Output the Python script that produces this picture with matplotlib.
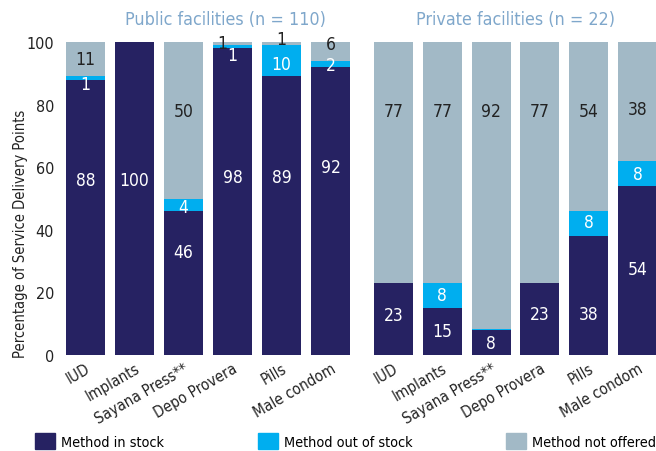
import matplotlib
matplotlib.use("agg")
import matplotlib.pyplot as plt
from matplotlib import rcParams
from matplotlib.patches import Patch
import matplotlib.transforms as mtrans
import numpy as np

rcParams['font.family'] = ['DejaVu Sans']
rcParams['font.stretch'] = 'condensed'

methods = ['IUD', 'Implants', 'Sayana Press**', 'Depo Provera', 'Pills', 'Male condom']

pub_in_stock = [88, 100, 46, 98, 89, 92]
pub_out_stock = [1, 0, 4, 1, 10, 2]
pub_not_offered = [11, 0, 50, 1, 1, 6]

priv_in_stock = [23, 15, 8, 23, 38, 54]
priv_out_stock = [0, 8, 0.3, 0, 8, 8]
priv_not_offered = [77, 77, 92, 77, 54, 38]

col_in = '#262262'
col_out = '#00AEEF'
col_not = '#A2B9C6'
col_title = '#7FA7CB'

# where the value labels sit (percent units)
pub_lab_in = [56, 56, 33, 57, 57, 60]
pub_lab_out = [86.5, None, 47.3, 96, 93, 92.6]
pub_lab_not = [94.6, None, 78, 99.6, 101, 99.4]
priv_lab_in = [12.8, 7.7, 3.8, 13.2, 13.2, 27.5]
priv_lab_out = [None, 19.2, None, None, 42.5, 57.8]
priv_lab_not = [78, 78, 78, 78, 78, 78.6]

W, H = 656, 452
fig = plt.figure(figsize=(W / 100, H / 100), dpi=100)

ax1 = fig.add_axes([61 / W, 1 - 356 / H, 294 / W, 313 / H])
ax2 = fig.add_axes([369 / W, 1 - 356 / H, 293 / W, 313 / H])


def draw_panel(ax, title, s_in, s_out, s_not, l_in, l_out, l_not, title_dx=0):
    x = np.arange(len(methods))
    b_out = np.array(s_in)
    b_not = b_out + np.array(s_out)
    ax.bar(x, s_in, width=0.8, color=col_in)
    ax.bar(x, s_out, width=0.8, bottom=b_out, color=col_out)
    ax.bar(x, s_not, width=0.8, bottom=b_not, color=col_not)
    for i in range(len(methods)):
        if l_in[i] is not None:
            ax.text(x[i], l_in[i], str(s_in[i]), color='white', fontsize=12.5,
                    ha='center', va='center')
        if l_out[i] is not None:
            ax.text(x[i], l_out[i], str(int(s_out[i])), color='white', fontsize=12.5,
                    ha='center', va='center')
        if l_not[i] is not None:
            dx = -0.2 if (s_not[i] == 1 and s_out[i] == 1) else 0
            ax.text(x[i] + dx, l_not[i], str(s_not[i]), color='#222222', fontsize=12.5,
                    ha='center', va='center')
    ax.set_xlim(-0.5, len(methods) - 0.5)
    ax.set_ylim(0, 100)
    ax.set_xticks(x)
    ax.set_xticklabels(methods, rotation=30, ha='right', rotation_mode='anchor',
                       fontsize=11, color='#222222')
    shift = mtrans.ScaledTranslation(5 / 100, 0, fig.dpi_scale_trans)
    for lab in ax.get_xticklabels():
        lab.set_transform(lab.get_transform() + shift)
    for s in ax.spines.values():
        s.set_visible(False)
    ax.tick_params(length=0)
    ax.tick_params(axis='x', pad=4)
    ax.set_title(title, color=col_title, fontsize=12.8, pad=13, x=0.5 + title_dx)


draw_panel(ax1, 'Public facilities (n = 110)', pub_in_stock, pub_out_stock,
           pub_not_offered, pub_lab_in, pub_lab_out, pub_lab_not, title_dx=0.06)
draw_panel(ax2, 'Private facilities (n = 22)', priv_in_stock, priv_out_stock,
           priv_not_offered, priv_lab_in, priv_lab_out, priv_lab_not)

ax1.set_yticks([0, 20, 40, 60, 80, 100])
ax1.tick_params(axis='y', labelsize=11.5, labelcolor='#222222', pad=5)
ax1.set_ylabel('Percentage of Service Delivery Points', fontsize=10.5, color='#222222')
ax1.yaxis.set_label_coords(-0.112, 0.39)
ax2.set_yticks([])

handles = [Patch(color=col_in, label='Method in stock'),
           Patch(color=col_out, label='Method out of stock'),
           Patch(color=col_not, label='Method not offered')]
fig.legend(handles=handles, loc='lower left', bbox_to_anchor=(29 / W, -4 / H), ncol=3,
           frameon=False, fontsize=10.4, handlelength=1.4, handleheight=1.4,
           handletextpad=0.4, columnspacing=6.5, borderaxespad=0)

fig.savefig('out.png', dpi=100)
